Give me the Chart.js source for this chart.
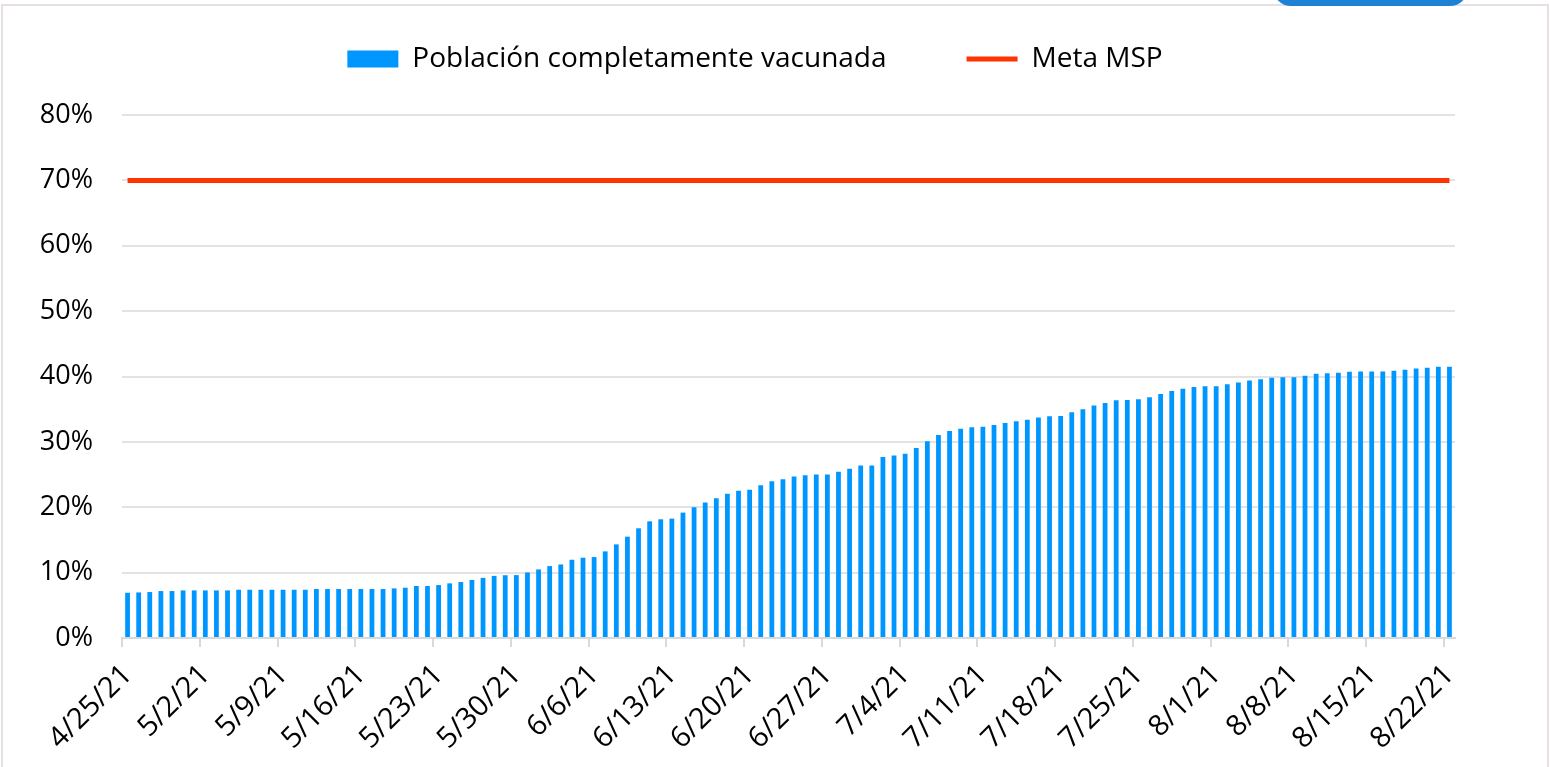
<!DOCTYPE html>
<html lang="es">
<head>
  <meta charset="UTF-8">
  <title>Población completamente vacunada</title>
  <script src="https://cdn.jsdelivr.net/npm/chart.js"></script>
  <style>
    html, body { margin: 0; padding: 0; background: #fff; }
    #wrap { position: relative; width: 1550px; height: 767px; overflow: hidden; }
    #marco { position: absolute; left: 1px; top: 4px; width: 1548px; height: 800px; border: 2px solid #e6e0e0; box-sizing: border-box; }
    #boton { position: absolute; left: 1273px; top: -30px; width: 195px; height: 36px; border-radius: 18px; background: #1e82d4; }
    canvas { position: absolute; left: 0; top: 0; }
  </style>
</head>
<body>
  <div id="wrap">
    <div id="marco"></div>
    <div id="boton"></div>
    <canvas id="grafico" width="1550" height="767"></canvas>
  </div>

  <script>
    // fechas diarias del 4/25/21 al 8/22/21
    const fechas = [];
    for (let i = 0; i < 120; i++) {
      const d = new Date(2021, 3, 25 + i);
      fechas.push(`${d.getMonth() + 1}/${d.getDate()}/21`);
    }
    const cadaCuantos = 7; // una etiqueta por semana

    // % de población completamente vacunada
    const vacunada = [
      6.92, 6.97, 7.03, 7.18, 7.18, 7.28, 7.28, 7.28, 7.28, 7.28,
      7.38, 7.38, 7.38, 7.38, 7.38, 7.38, 7.38, 7.49, 7.49, 7.49,
      7.49, 7.49, 7.49, 7.49, 7.59, 7.69, 7.95, 7.95, 8.10, 8.36,
      8.56, 8.87, 9.20, 9.50, 9.60, 9.62, 10.03, 10.49, 11.00, 11.25,
      11.97, 12.28, 12.38, 13.25, 14.32, 15.50, 16.78, 17.85, 18.16, 18.26,
      19.18, 20.00, 20.72, 21.38, 22.05, 22.51, 22.66, 23.38, 23.99, 24.30,
      24.70, 24.91, 25.01, 25.01, 25.42, 25.88, 26.40, 26.40, 27.70, 27.93,
      28.18, 29.05, 30.08, 31.05, 31.66, 32.02, 32.23, 32.33, 32.58, 32.89,
      33.15, 33.40, 33.71, 33.91, 33.96, 34.53, 34.99, 35.55, 35.96, 36.37,
      36.42, 36.52, 36.83, 37.34, 37.80, 38.11, 38.41, 38.52, 38.52, 38.82,
      39.08, 39.39, 39.59, 39.80, 39.90, 39.90, 40.10, 40.41, 40.51, 40.56,
      40.72, 40.77, 40.77, 40.77, 40.87, 41.02, 41.23, 41.33, 41.48, 41.48
    ];
    const metaMSP = 70;

    const familia = "'Open Sans', 'Liberation Sans', sans-serif";
    const gris = '#d9d9d9';

    // más espacio debajo de la leyenda y un pequeño corrimiento a la derecha
    const ajusteLeyenda = {
      id: 'ajusteLeyenda',
      beforeInit(chart) {
        const leyenda = chart.legend;
        const fitOriginal = leyenda.fit;
        leyenda.fit = function () {
          fitOriginal.bind(leyenda)();
          this.height += 32;
        };
        const drawOriginal = leyenda.draw;
        leyenda.draw = function (...args) {
          this.ctx.save();
          this.ctx.translate(8, 0);
          drawOriginal.apply(leyenda, args);
          this.ctx.restore();
        };
      }
    };

    new Chart(document.getElementById('grafico'), {
      type: 'bar',
      data: {
        labels: fechas,
        datasets: [{
          label: 'Población completamente vacunada',
          data: vacunada,
          backgroundColor: '#0096ff',
          borderWidth: 0,
          barPercentage: 0.43,
          categoryPercentage: 1,
          pointStyle: 'rect'
        }, {
          type: 'line',
          label: 'Meta MSP',
          data: fechas.map(() => metaMSP),
          borderColor: '#ff3300',
          backgroundColor: '#ff3300',
          borderWidth: 5,
          pointRadius: 0,
          pointStyle: 'line'
        }]
      },
      options: {
        responsive: false,
        animation: false,
        layout: { padding: { top: -35, left: 39, right: 95, bottom: 10 } },
        plugins: {
          legend: {
            labels: {
              usePointStyle: true,
              pointStyleWidth: 51,
              boxHeight: 17,
              padding: 80,
              color: '#000',
              font: { family: familia, size: 28 }
            }
          },
          tooltip: { enabled: false }
        },
        scales: {
          x: {
            // alto fijo del eje y sin relleno extra por las etiquetas giradas
            afterFit: scale => { scale.paddingLeft = 0; scale.paddingRight = 0; scale.height = 119; },
            grid: {
              drawOnChartArea: false,
              tickLength: 9,
              lineWidth: 2,
              color: ctx => ctx.index % cadaCuantos === 0 ? gris : 'rgba(0,0,0,0)'
            },
            border: { color: gris, width: 2 },
            ticks: {
              autoSkip: false,
              minRotation: 45,
              maxRotation: 45,
              padding: 11,
              color: '#000',
              font: { family: familia, size: 29 },
              callback: (v, i) => i % cadaCuantos === 0 ? fechas[i] : ''
            }
          },
          y: {
            min: 0,
            max: 80,
            afterFit: scale => { scale.width = 83; },
            border: { display: false },
            grid: { color: '#e3e3e3', lineWidth: 2, drawTicks: false },
            ticks: {
              stepSize: 10,
              padding: 29,
              color: '#000',
              font: { family: familia, size: 27 },
              callback: v => v + '%'
            }
          }
        }
      },
      plugins: [ajusteLeyenda]
    });
  </script>
</body>
</html>
